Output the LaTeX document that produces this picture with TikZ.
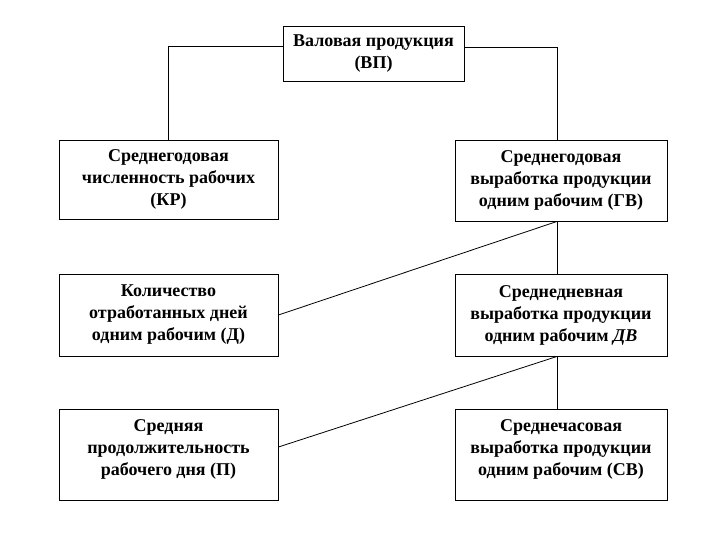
\documentclass[tikz,border=0pt]{standalone}
\usepackage{fontspec}
\setmainfont{Liberation Serif}
\begin{document}
\begin{tikzpicture}[x=1pt,y=-1pt,
  box/.style={draw, line width=0.9pt, inner sep=0pt, align=center,
    font=\fontsize{18}{22}\selectfont\bfseries},
  conn/.style={line width=0.8pt}]
\useasboundingbox (0,0) rectangle (720,540);
\node[box, minimum width=181pt, minimum height=55pt] (vp) at (373.5,53.5) {Валовая продукция\\(ВП)};
\node[box, minimum width=219pt, minimum height=79pt] (kr) at (168.5,179.5) {Среднегодовая\\численность рабочих\\(КР)};
\node[box, minimum width=212pt, minimum height=81pt] (gv) at (561,180.5) {Среднегодовая\\выработка продукции\\одним рабочим (ГВ)};
\node[box, minimum width=219pt, minimum height=82pt] (d) at (168.5,315) {Количество\\отработанных дней\\одним рабочим (Д)};
\node[box, minimum width=212pt, minimum height=82pt] (dv) at (561,315) {Среднедневная\\выработка продукции\\одним рабочим \textit{ДВ}};
\node[box, minimum width=219pt, minimum height=91pt] (p) at (168.5,454.5) {Средняя\\продолжительность\\рабочего дня (П)\\[-8pt]\mbox{}};
\node[box, minimum width=212pt, minimum height=91pt] (sv) at (561,454.5) {Среднечасовая\\выработка продукции\\одним рабочим (СВ)\\[-8pt]\mbox{}};
\coordinate (xr) at (557,0);
\coordinate (xl) at (168,0);
\draw[conn] (vp.west |- 0,46) -| (kr.north -| xl);
\draw[conn] (vp.east |- 0,47) -| (gv.north -| xr);
\draw[conn] (gv.south -| xr) -- (dv.north -| xr);
\draw[conn] (gv.south -| xr) -- (d.east |- 0,315);
\draw[conn] (dv.south -| xr) -- (sv.north -| xr);
\draw[conn] (dv.south -| xr) -- (p.east |- 0,447);
\end{tikzpicture}
\end{document}
